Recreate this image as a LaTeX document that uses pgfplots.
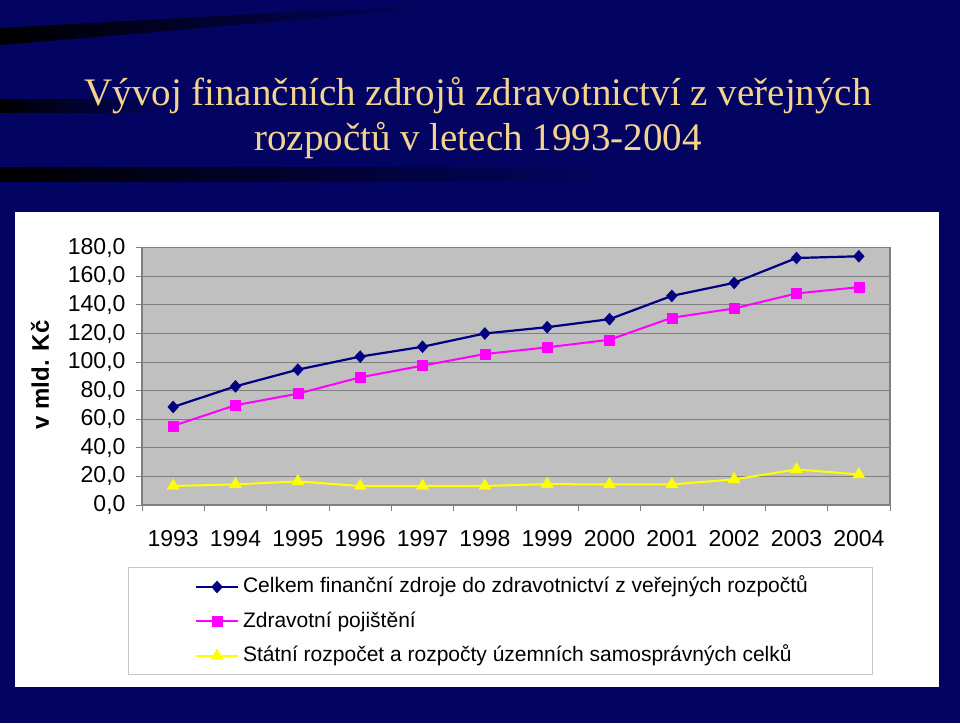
\documentclass[border=0pt]{standalone}
\usepackage{fontspec}
\setmainfont{Liberation Sans}
\newfontfamily\titlefont{Liberation Serif}
\usepackage{pgfplots}
\usepackage{pgfplotstable}
\pgfplotsset{compat=1.18}
\definecolor{bgnavy}{RGB}{3,4,98}
\definecolor{titlecol}{RGB}{242,212,140}
\definecolor{plotgray}{RGB}{192,192,192}
\definecolor{gridgray}{RGB}{128,128,128}
\definecolor{sernavy}{RGB}{0,0,128}
\definecolor{sermag}{RGB}{255,0,255}
\definecolor{seryel}{RGB}{255,255,0}

\pgfplotstableread{
idx celkem pojisteni statni
0  68.6  55.4  13.3
1  83.0  69.8  14.4
2  94.7  77.9  16.5
3  103.8 89.3  13.3
4  110.7 97.5  13.3
5  120.0 105.6 13.3
6  124.4 110.3 14.6
7  130.0 115.6 14.4
8  146.3 131.0 14.4
9  155.4 137.5 17.9
10 172.8 148.0 24.9
11 174.0 152.4 21.4
}\datatable

\begin{document}
\begin{tikzpicture}
\begin{scope}[x=1pt,y=1pt]
\path[use as bounding box] (0,0) rectangle (960,723);
\fill[bgnavy] (0,0) rectangle (960,723);
% decorative dark streaks
\shade[left color=black, right color=bgnavy] (0,695) .. controls (150,703) and (300,712) .. (450,718) -- (450,716) .. controls (300,704) and (150,690) .. (0,678) -- cycle;
\shade[left color=black, right color=bgnavy] (0,610) rectangle (170,623);
\shade[left color=black, middle color=black!60!bgnavy, right color=bgnavy] (0,541) rectangle (620,555);
% title
\node[anchor=base, text=titlecol, inner sep=0pt, font=\titlefont\fontsize{39}{44}\selectfont] at (478,617) {Vývoj finančních zdrojů zdravotnictví z veřejných};
\node[anchor=base, text=titlecol, inner sep=0pt, font=\titlefont\fontsize{39}{44}\selectfont] at (478,572) {rozpočtů v letech 1993-2004};
% white panel
\fill[white] (15,36) rectangle (939,511);
% legend frame
\draw[black!22, line width=1pt] (128,49) rectangle (872,156);
% y label
\node[rotate=90, inner sep=0pt, font=\bfseries\fontsize{24}{28}\selectfont] at (40,348) {v mld. Kč};
\end{scope}

\begin{axis}[
  at={(142pt,218pt)}, anchor=south west, scale only axis,
  width=748pt, height=257.3pt,
  xmin=-0.5, xmax=11.5, ymin=0, ymax=180,
  axis background/.style={fill=plotgray},
  axis line style={draw=gridgray, line width=1.3pt},
  ymajorgrids, major grid style={draw=gridgray, line width=0.9pt},
  xtick={0,...,11},
  xticklabels={1993,1994,1995,1996,1997,1998,1999,2000,2001,2002,2003,2004},
  minor xtick={-0.5,0.5,...,11.5},
  major x tick style={draw=none},
  ytick={0,20,...,180},
  tick align=outside, tick pos=left,
  major tick length=6pt, minor tick length=6pt,
  tick style={draw=gridgray, line width=1pt},
  yticklabel style={/pgf/number format/fixed, /pgf/number format/fixed zerofill,
    /pgf/number format/precision=1, /pgf/number format/use comma,
    /pgf/number format/assume math mode=true, /tikz/xshift=-7pt},
  xticklabel style={/tikz/yshift=-16pt},
  tick label style={font=\fontsize{23}{27}\selectfont},
  legend style={at={(axis description cs:0.0709,-0.268)}, anchor=north west,
    draw=none, fill=none, inner sep=0pt, outer sep=0pt, row sep=8.5pt, column sep=2pt,
    font=\fontsize{21}{25}\selectfont,
    nodes={text height=17pt, text depth=5pt, inner sep=2pt}},
  legend cell align=left,
  legend image code/.code={\draw[mark repeat=2,mark phase=2,#1,line width=2pt] plot coordinates {(0pt,0pt) (21pt,0pt) (42pt,0pt)};},
]
\addplot[sernavy, line width=2.2pt, mark=diamond*, mark size=6pt,
  mark options={solid, fill=sernavy, draw=sernavy, line width=0.4pt, xscale=1.2}]
  table[x=idx, y=celkem]{\datatable};
\addlegendentry{Celkem finanční zdroje do zdravotnictví z veřejných rozpočtů}
\addplot[sermag, line width=2pt, mark=square*, mark size=5pt,
  mark options={solid, fill=sermag, draw=sermag, line width=0.4pt}]
  table[x=idx, y=pojisteni]{\datatable};
\addlegendentry{Zdravotní pojištění}
\addplot[seryel, line width=2pt, mark=triangle*, mark size=7pt,
  mark options={solid, fill=seryel, draw=seryel, line width=0.4pt}]
  table[x=idx, y=statni]{\datatable};
\addlegendentry{Státní rozpočet a rozpočty územních samosprávných celků}
\end{axis}
\end{tikzpicture}
\end{document}
